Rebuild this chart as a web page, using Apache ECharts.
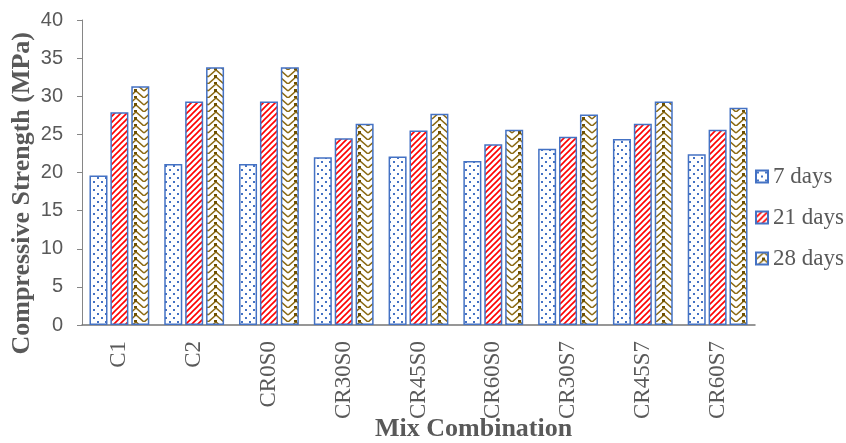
<!DOCTYPE html>
<html>
<head>
<meta charset="utf-8">
<script src="https://cdn.jsdelivr.net/npm/echarts@6/dist/echarts.min.js"></script>
<style>
  html, body { margin: 0; padding: 0; background: #fff; }
  #chart { width: 846px; height: 443px; }
</style>
</head>
<body>
<div id="chart"></div>
<script>
const categories = ["C1", "C2", "CR0S0", "CR30S0", "CR45S0", "CR60S0", "CR30S7", "CR45S7", "CR60S7"];
const days7 = [19.6, 21.1, 21.1, 22.0, 22.1, 21.5, 23.1, 24.4, 22.4];
const days21 = [27.9, 29.3, 29.3, 24.5, 25.5, 23.7, 24.7, 26.4, 25.6];
const days28 = [31.3, 33.8, 33.8, 26.4, 27.7, 25.6, 27.6, 29.3, 28.5];
const yTicks = [0, 5, 10, 15, 20, 25, 30, 35, 40];

function makePattern(w, h, draw) {
  const c = document.createElement("canvas");
  c.width = w;
  c.height = h;
  const ctx = c.getContext("2d");
  ctx.fillStyle = "#fff";
  ctx.fillRect(0, 0, w, h);
  draw(ctx);
  return { image: c, repeat: "repeat" };
}

// dotted blue
const dotFill = makePattern(8, 8, ctx => {
  ctx.fillStyle = "#4472C4";
  ctx.fillRect(1, 1, 2, 2);
  ctx.fillRect(5, 5, 2, 2);
});

// red diagonal stripes
const stripeFill = makePattern(6, 6, ctx => {
  ctx.strokeStyle = "#FF0000";
  ctx.lineWidth = 1.6;
  ctx.beginPath();
  ctx.moveTo(-1, 7); ctx.lineTo(7, -1);
  ctx.moveTo(-4, 4); ctx.lineTo(4, -4);
  ctx.moveTo(2, 10); ctx.lineTo(10, 2);
  ctx.stroke();
});

// brown zigzag
const zigFill = makePattern(16, 14, ctx => {
  ctx.strokeStyle = "#8B6A14";
  ctx.lineWidth = 1.6;
  ctx.beginPath();
  ctx.moveTo(0, 7); ctx.lineTo(8, 0); ctx.lineTo(16, 7);
  ctx.moveTo(0, 14); ctx.lineTo(8, 7); ctx.lineTo(16, 14);
  ctx.stroke();
  ctx.fillStyle = "#6E5000";
  ctx.fillRect(6, 5, 3, 3);
  ctx.fillRect(6, 12, 3, 3);
});

const chart = echarts.init(document.getElementById("chart"));

const border = { borderColor: "#4472C4", borderWidth: 1.5 };

chart.setOption({
  animation: false,
  grid: { left: 82, right: 91, top: 20, bottom: 118 },
  legend: {
    orient: "vertical",
    left: 750,
    top: 160,
    itemWidth: 12,
    itemHeight: 12,
    itemGap: 18,
    icon: "rect",
    textStyle: { fontFamily: "Liberation Serif", fontSize: 23, color: "#595959" },
    data: ["7 days", "21 days", "28 days"]
  },
  xAxis: {
    type: "category",
    data: categories,
    axisLine: { lineStyle: { color: "#767676", width: 1.5 } },
    axisTick: { show: false },
    axisLabel: {
      rotate: 90,
      margin: 16,
      fontFamily: "Liberation Serif",
      fontSize: 23,
      color: "#595959"
    }
  },
  yAxis: {
    type: "value",
    min: 0,
    max: 40,
    interval: 5,
    splitLine: { show: false },
    axisLine: { show: true, lineStyle: { color: "#868686" } },
    axisTick: { show: true, length: 5, lineStyle: { color: "#868686" } },
    axisLabel: {
      margin: 19,
      fontFamily: "Liberation Sans",
      fontSize: 20,
      color: "#595959",
      formatter: v => (yTicks.includes(v) ? String(v) : "")
    }
  },
  graphic: [
    {
      type: "text",
      left: 9,
      top: 32,
      rotation: Math.PI / 2,
      style: {
        text: "Compressive Strength (MPa)",
        font: "bold 26px 'Liberation Serif'",
        fill: "#595959"
      }
    },
    {
      type: "text",
      left: 375,
      top: 416,
      style: {
        text: "Mix Combination",
        font: "bold 26px 'Liberation Serif'",
        fill: "#595959"
      }
    }
  ],
  series: [
    { name: "7 days", type: "bar", data: days7, barGap: "16%", barCategoryGap: "20%", itemStyle: Object.assign({ color: dotFill }, border) },
    { name: "21 days", type: "bar", data: days21, itemStyle: Object.assign({ color: stripeFill }, border) },
    { name: "28 days", type: "bar", data: days28, itemStyle: Object.assign({ color: zigFill }, border) }
  ]
});
</script>
</body>
</html>
